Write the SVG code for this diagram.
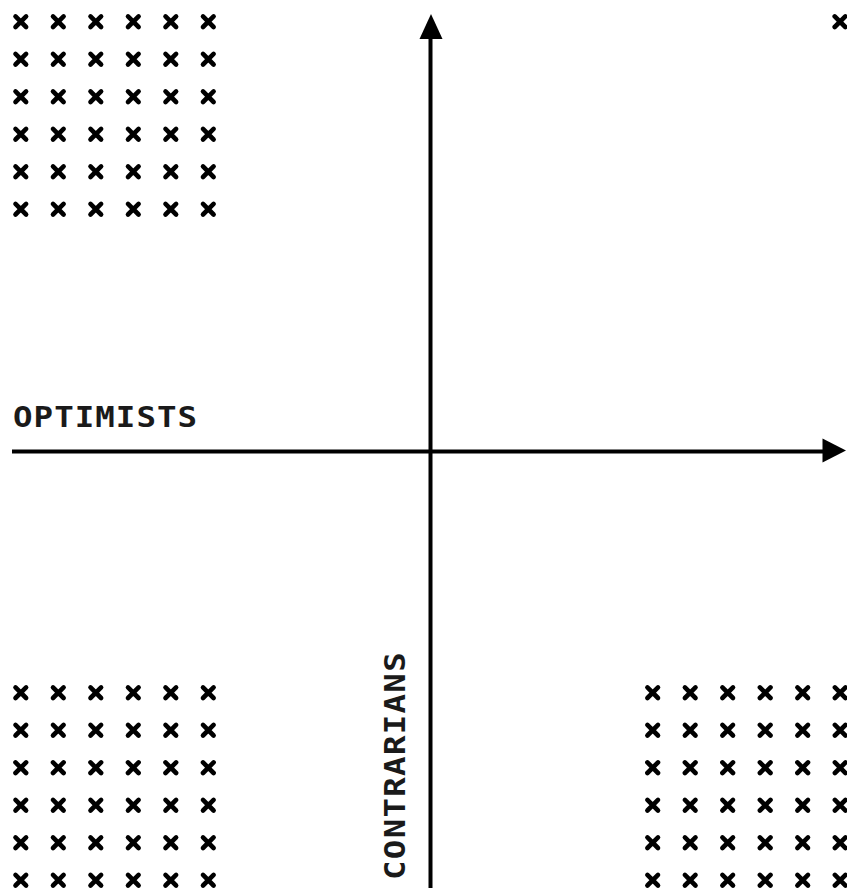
<svg xmlns="http://www.w3.org/2000/svg" xmlns:xlink="http://www.w3.org/1999/xlink" width="847" height="894" viewBox="0 0 847 894">
<style>
.axis{stroke:#000;stroke-width:4;fill:none}
.head{fill:#000}
.lbl{font-family:"DejaVu Sans Mono","Liberation Mono",monospace;font-size:27.5px;font-weight:bold;fill:#1a1a1a}
.xm{stroke:#000;stroke-width:4.6;stroke-linecap:round;fill:none}
</style>
<defs>
<path id="x" class="xm" d="M-5.3,-5.3 L5.3,5.3 M5.3,-5.3 L-5.3,5.3"/>
<g id="row">
<use xlink:href="#x" x="0"/><use xlink:href="#x" x="37.5"/><use xlink:href="#x" x="75"/><use xlink:href="#x" x="112.5"/><use xlink:href="#x" x="150"/><use xlink:href="#x" x="187.5"/>
</g>
<g id="grid">
<use xlink:href="#row" y="0"/><use xlink:href="#row" y="37.5"/><use xlink:href="#row" y="75"/><use xlink:href="#row" y="112.5"/><use xlink:href="#row" y="150"/><use xlink:href="#row" y="187.5"/>
</g>
</defs>
<rect width="847" height="894" fill="#fff"/>
<g id="grid-top-left"><use xlink:href="#grid" x="20.8" y="21.7"/></g>
<g id="grid-top-right"><use xlink:href="#x" x="840" y="21.7"/></g>
<g id="grid-bottom-left"><use xlink:href="#grid" x="20.8" y="692.7"/></g>
<g id="grid-bottom-right"><use xlink:href="#grid" x="652.7" y="692.7"/></g>
<g id="connectors">
<line class="axis" x1="12" y1="451.5" x2="824" y2="451.5"/>
<polygon class="head" points="846,450.5 822.5,438.5 822.5,462.5"/>
<line class="axis" x1="430.5" y1="888" x2="430.5" y2="37"/>
<polygon class="head" points="431,14 419.5,39 442.5,39"/>
</g>
<g id="label-optimists"><text class="lbl" transform="translate(13,427) scale(1.18,1)" x="0" y="0" textLength="156" lengthAdjust="spacing">OPTIMISTS</text></g>
<g id="label-contrarians"><text class="lbl" transform="translate(405,880) rotate(-90) scale(1.18,1)" x="0" y="0" textLength="193" lengthAdjust="spacing">CONTRARIANS</text></g>
</svg>
